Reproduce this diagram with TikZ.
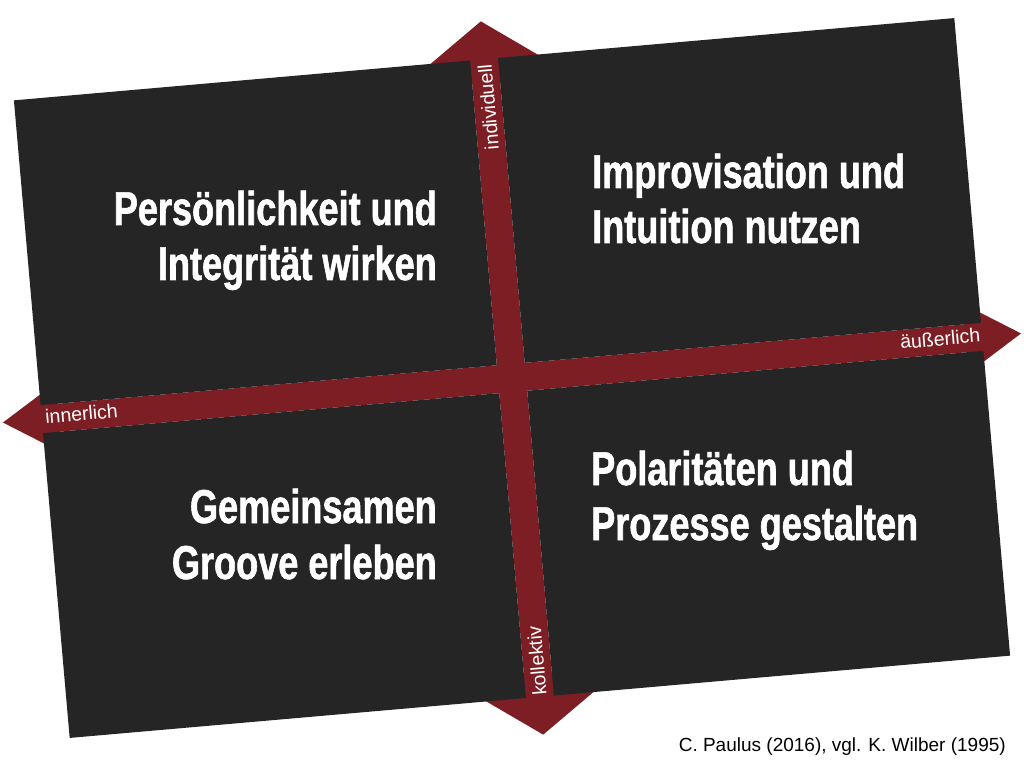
\documentclass[tikz,border=0pt]{standalone}
\usepackage{fontspec}
\setmainfont{Liberation Sans}
\newfontfamily\headfont[FakeStretch=0.76, BoldFeatures={FakeBold=1.2}]{Liberation Sans}
\definecolor{quadgray}{RGB}{37,37,37}
\definecolor{axisred}{RGB}{125,30,36}
\tikzset{
    quad/.style={fill=quadgray},
    axisbar/.style={fill=axisred},
    headline/.style={text=white, inner sep=0pt,
        font=\headfont\bfseries\fontsize{47.5}{55}\selectfont},
    axislabel/.style={text=white, inner sep=0pt,
        font=\fontsize{19.5}{22}\selectfont},
}

\begin{document}
\begin{tikzpicture}[x=1pt,y=1pt]
    \fill[white] (-512,-390) rectangle (512,378);
    \useasboundingbox (-512,-390) rectangle (512,378);
    \begin{scope}[rotate=5]
        % cross with four arrow heads
        \fill[axisbar] (-511,0) -- (-455,35) -- (-455,14) -- (455,14)
            -- (455,35) -- (511,0) -- (455,-35) -- (455,-14)
            -- (-455,-14) -- (-455,-35) -- cycle;
        \fill[axisbar] (0,358) -- (82,300) -- (14,300) -- (14,-300)
            -- (82,-300) -- (0,-358) -- (-82,-300) -- (-14,-300)
            -- (-14,300) -- (-82,300) -- cycle;
        % quadrants
        \fill[quad] (-472,14) rectangle (-14,320);
        \fill[quad] (14,14) rectangle (472,320);
        \fill[quad] (-472,-14) rectangle (-14,-320);
        \fill[quad] (14,-14) rectangle (472,-320);
        \node[axislabel, rotate=95] (indiv) at (0,272) {individuell};
        \node[axislabel, rotate=95] (koll) at (0,-284) {kollektiv};
        \node[axislabel, rotate=5] (inner) at (-432,2) {innerlich};
        \node[axislabel, rotate=5] (aeuss) at (430,2) {äußerlich};
    \end{scope}
    \node[headline, anchor=base east] (pers) at (-75,153) {Persönlichkeit und};
    \node[headline, anchor=base east] (integ) at ([yshift=-55]pers.base east) {Integrität wirken};
    \node[headline, anchor=base west] (impro) at (80,190) {Improvisation und};
    \node[headline, anchor=base west] (intui) at ([yshift=-55]impro.base west) {Intuition nutzen};
    \node[headline, anchor=base east] (gemein) at (-75,-145) {Gemeinsamen};
    \node[headline, anchor=base east] (groove) at ([yshift=-56]gemein.base east) {Groove erleben};
    \node[headline, anchor=base west] (polar) at (79,-107) {Polaritäten und};
    \node[headline, anchor=base west] (proz) at ([yshift=-55]polar.base west) {Prozesse gestalten};
    \node[anchor=base east, inner sep=0pt, font=\fontsize{19}{22}\selectfont] (quelle) at (494,-373)
        {C. Paulus (2016), vgl. K. Wilber (1995)};
\end{tikzpicture}
\end{document}
